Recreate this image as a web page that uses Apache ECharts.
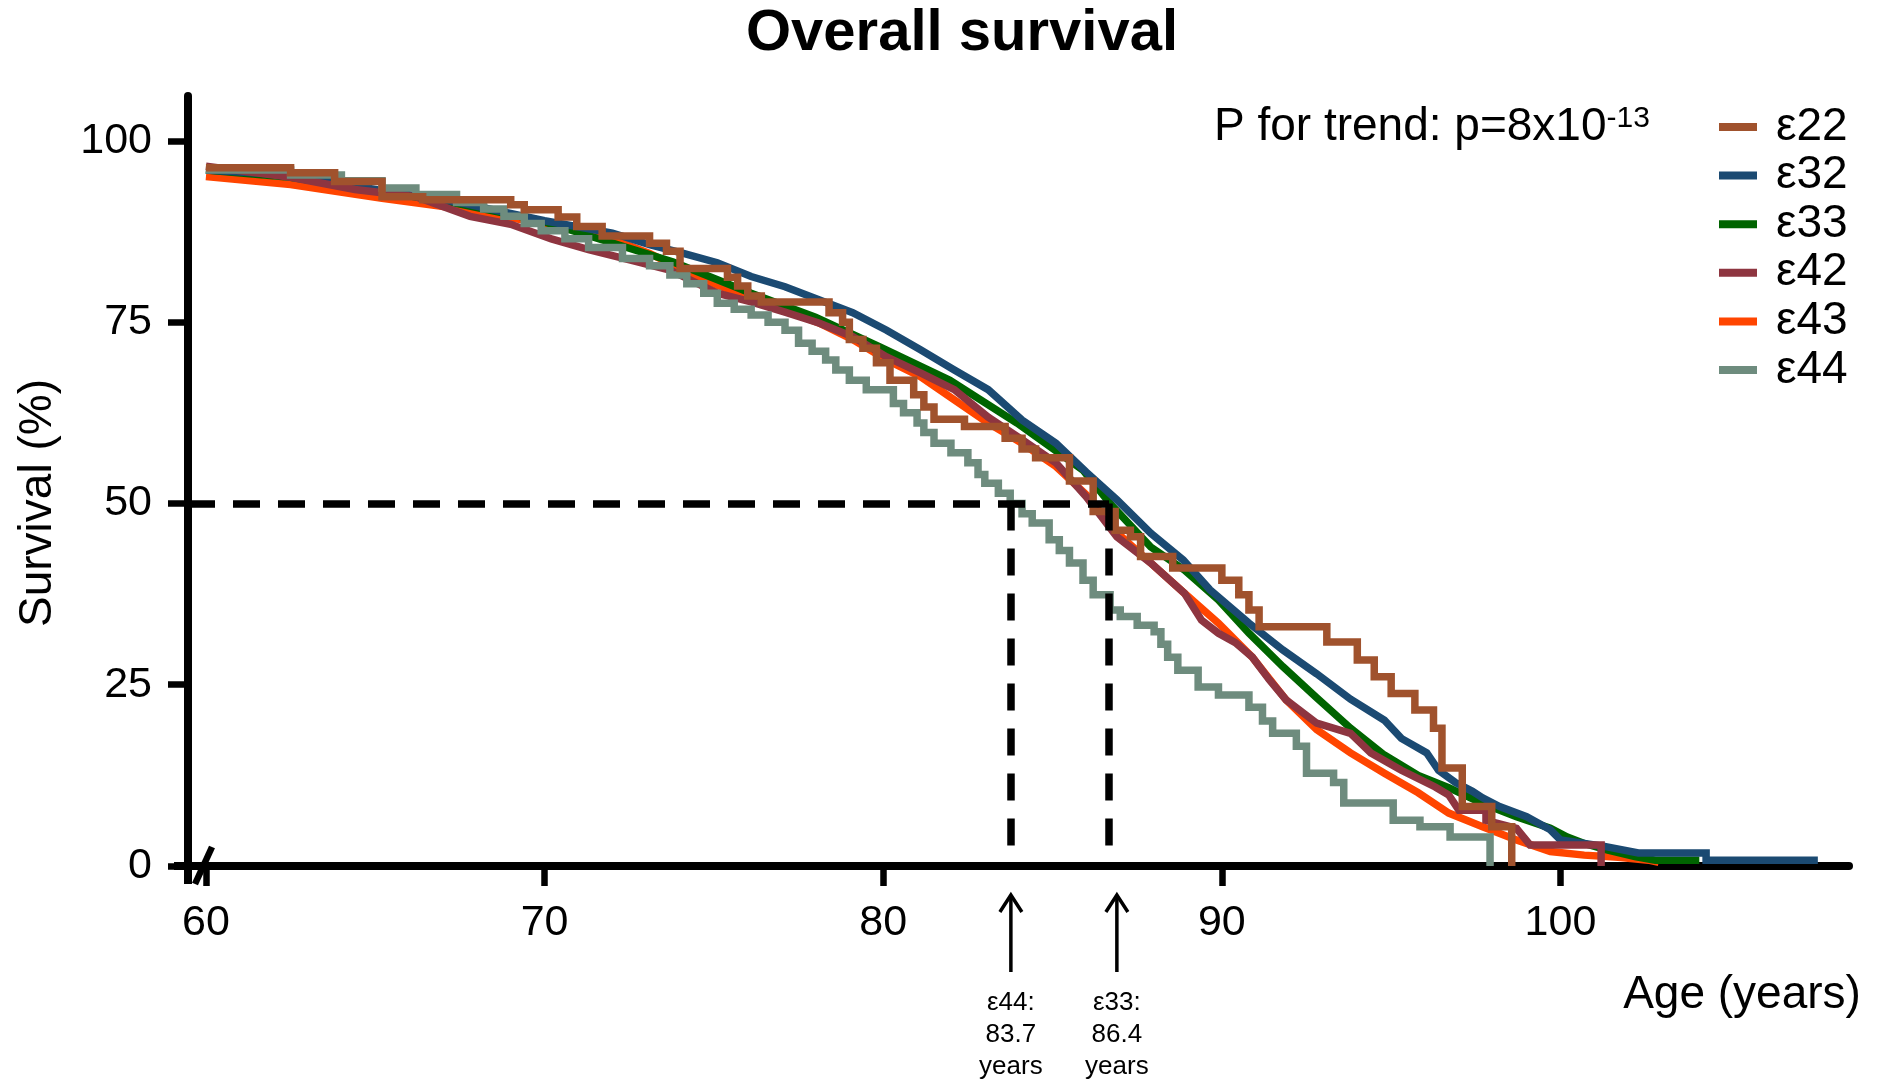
<!DOCTYPE html>
<html>
<head>
<meta charset="utf-8">
<script src="https://cdn.jsdelivr.net/npm/echarts@6/dist/echarts.min.js"></script>
<style>
html,body{margin:0;padding:0;background:#fff;}
#c{width:1879px;height:1084px;}
</style>
</head>
<body>
<div id="c"></div>
<script>
// ---------- data ----------
const seriesNames = ['ε22', 'ε32', 'ε33', 'ε42', 'ε43', 'ε44'];
const seriesColors = ['#A0522D', '#1B4A72', '#006400', '#8E3540', '#FF4500', '#6E8C7E'];

const e22 = [[60,96.3],[62.5,95.6],[63.8,94.4],[65.2,92.3],[66.4,91.9],[69.0,91.2],[69.4,90.5],[70.4,89.5],[70.95,88.2],[71.7,86.9],[73.1,85.9],[73.6,84.8],[74.0,82.4],[75.4,81.2],[75.7,80.0],[76.0,78.6],[76.4,77.8],[78.4,76.3],[78.8,75.0],[79.0,72.6],[79.4,71.4],[79.8,69.4],[80.2,67.0],[80.9,65.0],[81.2,63.3],[81.5,61.6],[82.4,60.6],[83.6,59.0],[84.1,57.5],[84.5,56.3],[85.5,53.1],[86.2,48.9],[86.85,46.3],[87.3,45.4],[87.6,42.7],[88.55,41.1],[90.0,39.4],[90.5,37.4],[90.8,35.3],[91.1,33.0],[93.1,30.9],[94.0,28.4],[94.5,26.1],[95.0,23.8],[95.7,21.5],[96.25,19.0],[96.5,13.5],[97.1,8.2],[97.97,5.4],[98.56,0]];

const e32 = [[60,96.0],[62.5,95.3],[65,93.3],[67.5,91.5],[70,89.0],[72,87.3],[73.1,85.7],[74.1,84.5],[75.1,83.2],[76.1,81.3],[77.1,79.9],[78.1,78.1],[79.1,76.3],[80.1,73.9],[81.1,71.2],[82.1,68.4],[83.1,65.7],[84.1,61.5],[85.1,58.3],[86.0,54.3],[86.9,50.5],[87.9,45.9],[88.86,42.2],[89.65,38.1],[90.8,33.5],[91.8,29.8],[92.8,26.5],[93.8,23.0],[94.8,20.1],[95.3,17.6],[96.05,15.6],[96.4,13.2],[96.9,11.5],[97.4,10.3],[97.7,9.4],[98.2,8.2],[99.0,6.8],[99.7,5.0],[100.0,3.6],[101.3,2.7],[102.3,1.8],[104.3,1.8],[104.3,0.8],[107.6,0.8]];

const e33 = [[60,96.0],[62.5,95.0],[65,93.2],[67.5,91.3],[69.8,89.1],[72.5,85.2],[73.8,83.3],[76.1,79.0],[78.0,75.7],[79.9,71.6],[81.97,67.0],[83.95,61.1],[85.9,54.6],[86.7,50.0],[87.9,44.0],[88.9,40.8],[89.9,36.7],[90.8,32.1],[91.8,27.5],[92.8,23.2],[93.8,19.0],[94.8,15.3],[95.8,12.5],[96.7,10.8],[97.7,8.6],[98.7,6.8],[99.7,5.2],[100.2,4.0],[100.7,3.1],[101.4,2.2],[102.2,1.3],[102.8,0.8],[104.1,0.8]];

const e42 = [[60,96.5],[62.5,95.0],[64.4,93.3],[66.2,92.3],[67.8,89.6],[69.0,88.5],[70.2,86.5],[71.3,85.0],[72.6,83.5],[73.7,82.2],[74.1,81.3],[75.1,79.0],[76.1,77.8],[77.1,76.4],[78.1,74.9],[79.1,73.0],[80.1,70.2],[81.1,68.0],[82.1,65.7],[83.1,61.9],[84.1,58.8],[85.1,55.6],[86.0,50.9],[86.9,45.4],[87.9,41.8],[88.9,37.6],[89.4,33.9],[89.9,32.1],[90.4,30.8],[90.9,28.8],[91.4,25.7],[91.9,22.9],[92.8,19.7],[93.8,18.3],[94.4,15.6],[95.3,13.2],[96.3,10.9],[96.7,9.8],[97.0,7.7],[97.8,7.7],[97.8,6.3],[98.7,5.2],[99.1,2.9],[101.2,2.9],[101.2,0]];

const e43 = [[60,95.1],[62.5,94.0],[65.2,92.1],[67.4,90.7],[69.5,89.0],[71.3,87.7],[73.1,84.5],[74.1,82.2],[75.1,80.1],[76.1,78.5],[77.1,76.7],[78.1,74.9],[79.1,72.6],[80.1,69.8],[81.1,67.5],[82.1,64.3],[83.1,61.1],[84.1,58.3],[85.1,55.1],[86.0,51.2],[86.9,46.0],[87.9,41.8],[88.9,37.6],[89.9,33.5],[90.9,28.8],[91.9,22.9],[92.8,18.8],[93.8,15.6],[94.8,12.8],[95.8,10.1],[96.7,7.3],[97.7,5.4],[98.7,3.6],[99.7,2.0],[100.7,1.5],[101.7,1.2],[102.6,0.8],[102.9,0.5]];

const e44 = [[60,96.0],[62.5,95.3],[64.0,94.5],[65.2,93.5],[66.2,92.6],[67.4,91.5],[68.2,90.6],[68.8,89.6],[69.4,88.6],[69.9,87.6],[70.6,86.5],[71.3,85.3],[72.3,83.8],[73.1,82.8],[73.7,81.5],[74.2,80.3],[74.7,79.0],[75.1,77.6],[75.6,76.8],[76.1,76.0],[76.6,75.0],[77.1,73.9],[77.5,72.1],[77.9,71.0],[78.3,69.8],[78.6,68.4],[79.0,67.0],[79.5,65.7],[80.3,63.8],[80.6,62.5],[81.0,61.1],[81.2,59.8],[81.5,58.3],[82.0,57.0],[82.5,55.6],[82.8,54.0],[83.0,52.8],[83.4,51.4],[83.75,50.0],[84.1,48.6],[84.4,47.3],[84.9,45.0],[85.2,43.5],[85.5,41.8],[85.9,39.4],[86.2,37.4],[86.7,35.3],[87.0,34.4],[87.5,33.2],[88.0,32.3],[88.2,30.6],[88.4,28.8],[88.7,27.0],[89.3,24.7],[89.9,23.6],[90.8,21.9],[91.2,20.0],[91.5,18.3],[92.2,16.5],[92.5,12.8],[93.3,11.5],[93.6,8.7],[95.06,6.3],[95.85,5.4],[96.74,4.0],[97.92,0]];

const xTickValues = [60, 70, 80, 90, 100];
const yTickValues = [0, 25, 50, 75, 100];
const X_MIN = 59.47, X_MAX = 108.52, Y_MIN = 0, Y_MAX = 106.2;
const medianLevel = 50;
const medianLineAges = [83.77, 86.67];   // dashed drop lines
const arrowAges = [83.77, 86.9];         // arrows under the axis
const medianLabels = ['ε44:\n83.7\nyears', 'ε33:\n86.4\nyears'];
const titleText = 'Overall survival';
const pTrendText = 'P for trend: p=8x10';
const pTrendExp = '-13';

// ---------- chart ----------
const FONT = 'Liberation Sans, Arial, Helvetica, sans-serif';
const chart = echarts.init(document.getElementById('c'), null, {renderer: 'canvas'});

const dataBySeries = {'ε22': e22, 'ε32': e32, 'ε33': e33, 'ε42': e42, 'ε43': e43, 'ε44': e44};
const stepped = {'ε22': 'end', 'ε44': 'end'};
const drawOrder = ['ε43', 'ε33', 'ε32', 'ε42', 'ε44', 'ε22'];

const series = drawOrder.map(name => {
  const col = seriesColors[seriesNames.indexOf(name)];
  return {
    name: name,
    type: 'line',
    data: dataBySeries[name],
    step: stepped[name] || false,
    symbol: 'none',
    showSymbol: false,
    itemStyle: {color: col},
    lineStyle: {color: col, width: 7.5, cap: 'butt', join: 'miter'},
    emphasis: {disabled: true},
    animation: false
  };
});

series.push({
  name: 'median',
  type: 'line',
  data: [],
  silent: true,
  markLine: {
    silent: true,
    symbol: ['none', 'none'],
    animation: false,
    label: {show: false},
    lineStyle: {color: '#000', width: 7.5, type: [27, 18]},
    data: [
      [{coord: [X_MIN, medianLevel]}, {coord: [medianLineAges[1], medianLevel]}],
      [{coord: [medianLineAges[0], medianLevel]}, {coord: [medianLineAges[0], 0]}],
      [{coord: [medianLineAges[1], medianLevel]}, {coord: [medianLineAges[1], 0]}]
    ]
  }
});

chart.setOption({
  backgroundColor: '#fff',
  animation: false,
  grid: {left: 188, right: 30, top: 96, bottom: 218, containLabel: false},
  xAxis: {
    type: 'value', min: X_MIN, max: X_MAX,
    axisLine: {show: true, onZero: false, lineStyle: {color: '#000', width: 8}},
    axisTick: {show: true, customValues: xTickValues, length: 20, lineStyle: {color: '#000', width: 6.5}},
    axisLabel: {customValues: xTickValues, fontSize: 43, fontFamily: FONT, color: '#000', margin: 36},
    splitLine: {show: false}
  },
  yAxis: {
    type: 'value', min: Y_MIN, max: Y_MAX,
    axisLine: {show: true, onZero: false, lineStyle: {color: '#000', width: 8}},
    axisTick: {show: true, customValues: yTickValues, length: 20, lineStyle: {color: '#000', width: 6.5}},
    axisLabel: {customValues: yTickValues, fontSize: 43, fontFamily: FONT, color: '#000', margin: 36},
    splitLine: {show: false}
  },
  legend: {
    data: seriesNames,
    orient: 'vertical',
    left: 1714, top: 99,
    icon: 'rect',
    itemWidth: 38, itemHeight: 8,
    itemGap: 2.6,
    selectedMode: false,
    textStyle: {fontSize: 46, lineHeight: 46, fontFamily: FONT, color: '#000', padding: [0, 0, 0, 14]}
  },
  series: series
});

// ---------- annotations positioned through the axis scales ----------
const O = chart.convertToPixel({gridIndex: 0}, [X_MIN, 0]);
const graphics = [];

graphics.push({type: 'text', x: 962, y: 34, style: {text: titleText, fontSize: 58, fontWeight: 'bold', fontFamily: FONT, fill: '#000', align: 'center', verticalAlign: 'middle'}});
graphics.push({type: 'text', x: 38, y: 503, rotation: Math.PI / 2, style: {text: 'Survival (%)', fontSize: 46, fontFamily: FONT, fill: '#000', align: 'center', verticalAlign: 'middle'}});
graphics.push({type: 'text', x: 1742, y: 995, style: {text: 'Age (years)', fontSize: 46, fontFamily: FONT, fill: '#000', align: 'center', verticalAlign: 'middle'}});
graphics.push({type: 'text', x: 1214, y: 127, style: {
  text: '{m|' + pTrendText + '}{s|' + pTrendExp + '}',
  fontFamily: FONT, fill: '#000', align: 'left', verticalAlign: 'middle',
  rich: {m: {fontSize: 46, lineHeight: 46, fontFamily: FONT, fill: '#000'}, s: {fontSize: 30, fontFamily: FONT, fill: '#000', verticalAlign: 'top'}}
}});

// broken-axis marks at origin
graphics.push({type: 'line', shape: {x1: O[0], y1: O[1], x2: O[0], y2: O[1] + 18}, style: {stroke: '#000', lineWidth: 8}});
graphics.push({type: 'line', shape: {x1: O[0] - 14, y1: O[1], x2: O[0], y2: O[1]}, style: {stroke: '#000', lineWidth: 8}});
graphics.push({type: 'line', shape: {x1: O[0] + 7, y1: O[1] + 18, x2: O[0] + 24, y2: O[1] - 19}, style: {stroke: '#000', lineWidth: 6.5}});

arrowAges.forEach((a, i) => {
  const p = chart.convertToPixel({gridIndex: 0}, [a, 0]);
  const x = p[0];
  const yTop = p[1] + 29, yBot = p[1] + 106;
  graphics.push({type: 'line', shape: {x1: x, y1: yTop + 2, x2: x, y2: yBot}, style: {stroke: '#000', lineWidth: 3.5}});
  graphics.push({type: 'polyline', shape: {points: [[x - 11, yTop + 17], [x, yTop], [x + 11, yTop + 17]]}, style: {stroke: '#000', lineWidth: 3.5, fill: null}});
  graphics.push({type: 'text', x: x, y: p[1] + 121, style: {text: medianLabels[i], fontSize: 26, lineHeight: 32, fontFamily: FONT, fill: '#000', align: 'center', verticalAlign: 'top'}});
});

chart.setOption({graphic: graphics});
</script>
</body>
</html>
